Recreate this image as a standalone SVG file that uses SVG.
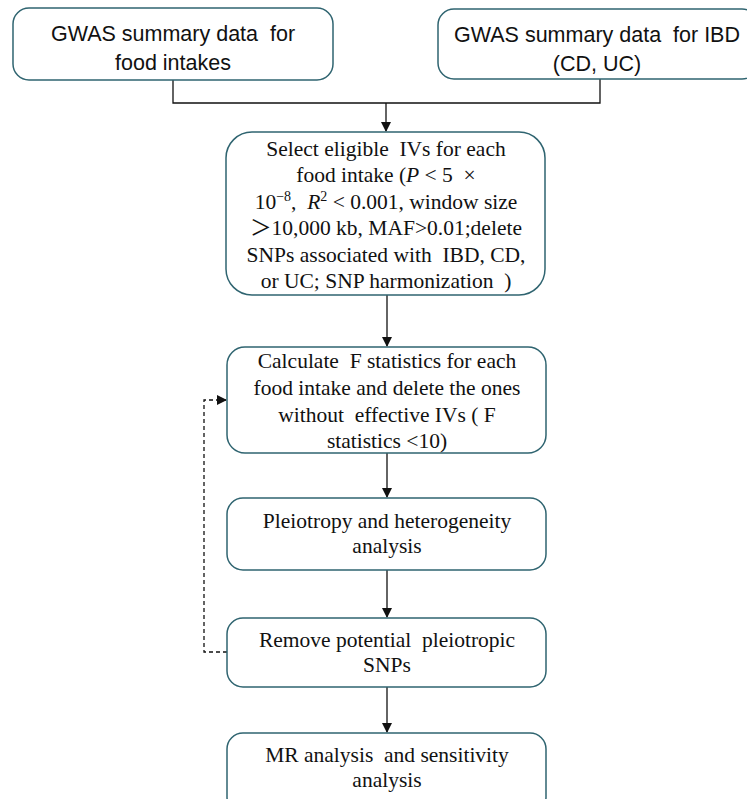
<svg xmlns="http://www.w3.org/2000/svg" width="747" height="799" viewBox="0 0 747 799">
<defs>
<style>
.box{fill:#fff;stroke:#2f6470;stroke-width:1.5}
text{white-space:pre}
.sans{font-family:"Liberation Sans",Arial,sans-serif;font-size:21.5px;fill:#111;text-anchor:middle}
.serif{font-family:"Liberation Serif","Times New Roman","Noto Sans CJK SC",serif;font-size:21.5px;fill:#111;text-anchor:middle}
.ln{fill:none;stroke:#111;stroke-width:1.3}
.dash{fill:none;stroke:#111;stroke-width:1.3;stroke-dasharray:4 3}
</style>
<marker id="ah" markerWidth="10" markerHeight="10" refX="9" refY="5" orient="auto" markerUnits="userSpaceOnUse">
<path d="M0,0 L10,5 L0,10 Z" fill="#111"/>
</marker>
</defs>
<rect width="747" height="799" fill="#fff"/>

<g id="connectors">
<path class="ln" d="M173,80 V103 H600 V79"/>
<path class="ln" d="M386,103 V131" marker-end="url(#ah)"/>
<path class="ln" d="M387,295 V346" marker-end="url(#ah)"/>
<path class="ln" d="M387,453 V497" marker-end="url(#ah)"/>
<path class="ln" d="M387,570 V617" marker-end="url(#ah)"/>
<path class="ln" d="M387,687 V732" marker-end="url(#ah)"/>
<path class="dash" d="M227,652 H204 V400 H226" marker-end="url(#ah)"/>
</g>

<g id="n1">
<rect class="box" x="13" y="8" width="320" height="72" rx="16"/>
<text class="sans" x="173" y="41" xml:space="preserve">GWAS summary data  for</text>
<text class="sans" x="173" y="70">food intakes</text>
</g>

<g id="n2">
<rect class="box" x="438" y="9" width="320" height="70" rx="16"/>
<text class="sans" x="597" y="42" xml:space="preserve">GWAS summary data  for IBD</text>
<text class="sans" x="597" y="71">(CD, UC)</text>
</g>

<g id="n3">
<rect class="box" x="226" y="132" width="319" height="163" rx="26"/>
<text class="serif" x="386" y="156" xml:space="preserve">Select eligible  IVs for each</text>
<text class="serif" x="386" y="182" xml:space="preserve">food intake (<tspan font-style="italic">P</tspan> &lt; 5  ×</text>
<text class="serif" x="386" y="209" xml:space="preserve">10<tspan font-size="14" dy="-8">−8</tspan><tspan dy="8">,  </tspan><tspan font-style="italic">R</tspan><tspan font-size="14" dy="-8">2</tspan><tspan dy="8"> &lt; 0.001, window size</tspan></text>
<text class="serif" x="386" y="235">＞10,000 kb, MAF&gt;0.01;delete</text>
<text class="serif" x="386" y="262" xml:space="preserve">SNPs associated with  IBD, CD,</text>
<text class="serif" x="386" y="288" xml:space="preserve">or UC; SNP harmonization  )</text>
</g>

<g id="n4">
<rect class="box" x="227" y="347" width="319" height="106" rx="18"/>
<text class="serif" x="387" y="368" xml:space="preserve">Calculate  F statistics for each</text>
<text class="serif" x="387" y="395">food intake and delete the ones</text>
<text class="serif" x="387" y="422" xml:space="preserve">without  effective IVs ( F</text>
<text class="serif" x="387" y="448">statistics &lt;10)</text>
</g>

<g id="n5">
<rect class="box" x="227" y="498" width="319" height="72" rx="16"/>
<text class="serif" x="387" y="528">Pleiotropy and heterogeneity</text>
<text class="serif" x="387" y="553">analysis</text>
</g>

<g id="n6">
<rect class="box" x="227" y="618" width="319" height="69" rx="16"/>
<text class="serif" x="387" y="647" xml:space="preserve">Remove potential  pleiotropic</text>
<text class="serif" x="387" y="672">SNPs</text>
</g>

<g id="n7">
<rect class="box" x="227" y="733" width="319" height="80" rx="16"/>
<text class="serif" x="387" y="762" xml:space="preserve">MR analysis  and sensitivity</text>
<text class="serif" x="387" y="787">analysis</text>
</g>
</svg>
